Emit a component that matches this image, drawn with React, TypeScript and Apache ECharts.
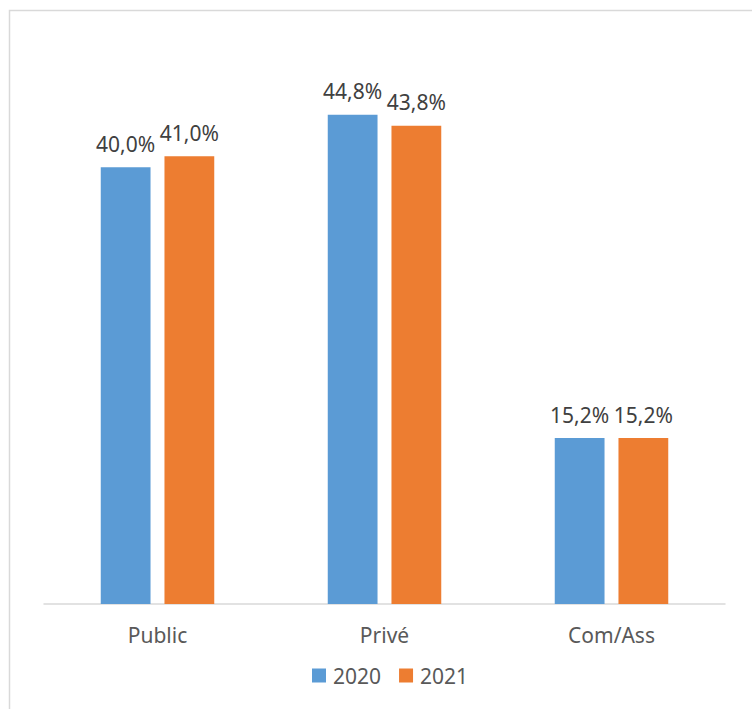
import React, { useEffect, useRef } from "react";
import * as echarts from "echarts";

const categories = ["Public", "Privé", "Com/Ass"];
const seriesNames = ["2020", "2021"];
const values2020 = [40.0, 44.8, 15.2];
const values2021 = [41.0, 43.8, 15.2];
const colors = ["#5B9BD5", "#ED7D31"];

export default function App() {
  const ref = useRef<HTMLDivElement>(null);
  useEffect(() => {
    document.body.style.margin = "0";
    if (!ref.current) return;
    const chart = echarts.init(ref.current, undefined, { renderer: "svg" });
    const font = "'Noto Sans', sans-serif";
    const label = {
      show: true,
      position: "top",
      distance: 13,
      color: "#404040",
      fontSize: 21,
      fontFamily: font,
      formatter: (p: any) => p.value.toFixed(1).replace(".", ",") + "%",
    };
    chart.setOption({
      animation: false,
      backgroundColor: "#ffffff",
      graphic: [
        {
          type: "rect",
          shape: { x: 9.5, y: 10.5, width: 800, height: 800 },
          style: { fill: "none", stroke: "#d9d9d9", lineWidth: 1.5 },
          silent: true,
        },
      ],
      grid: { left: 44, right: 27, top: 58, bottom: 105 },
      legend: {
        data: seriesNames,
        bottom: 18,
        left: 307,
        itemWidth: 14,
        itemHeight: 14,
        itemGap: 18,
        icon: "rect",
        textStyle: { color: "#595959", fontSize: 21, fontFamily: font, padding: [0, 0, 0, 2] },
      },
      xAxis: {
        type: "category",
        data: categories,
        axisLine: { lineStyle: { color: "#d9d9d9", width: 1.5 } },
        axisTick: { show: false },
        axisLabel: { color: "#595959", fontSize: 21, fontFamily: font, margin: 20 },
      },
      yAxis: {
        type: "value",
        min: 0,
        max: 50,
        show: false,
        splitLine: { show: false },
      },
      series: [
        {
          name: seriesNames[0],
          type: "bar",
          data: values2020,
          itemStyle: { color: colors[0] },
          barGap: "28%",
          barCategoryGap: "50%",
          label,
        },
        {
          name: seriesNames[1],
          type: "bar",
          data: values2021,
          itemStyle: { color: colors[1] },
          barGap: "28%",
          barCategoryGap: "50%",
          label,
        },
      ],
    });
    return () => chart.dispose();
  }, []);
  return <div ref={ref} style={{ width: 752, height: 709 }} />;
}
